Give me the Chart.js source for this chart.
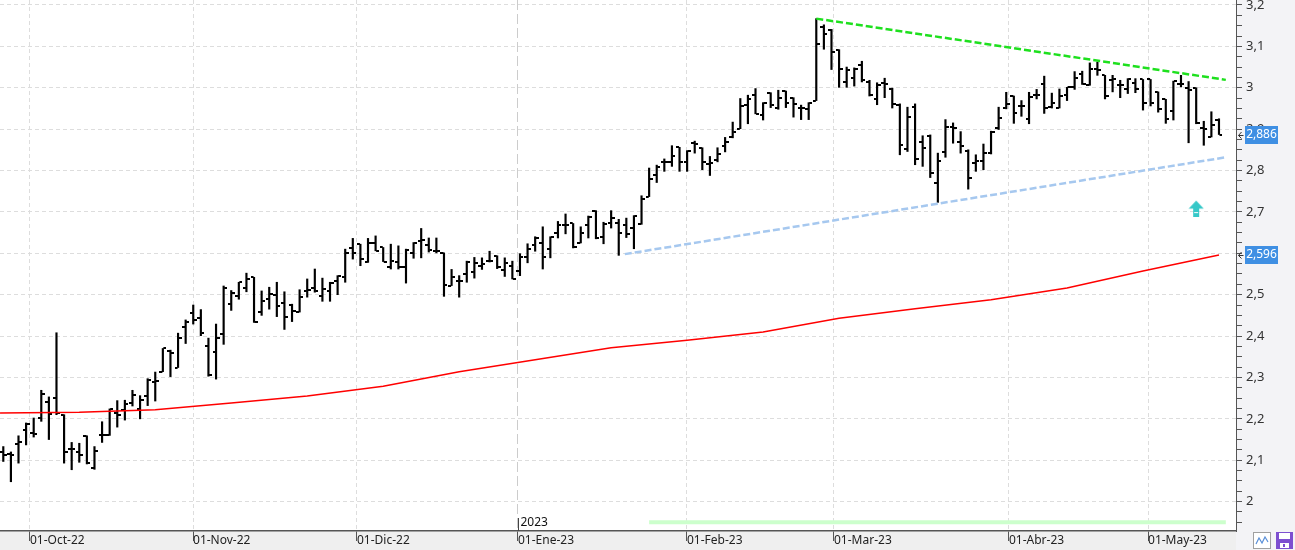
<!DOCTYPE html>
<html>
<head>
<meta charset="utf-8">
<script src="https://cdn.jsdelivr.net/npm/chart.js@4.4.1/dist/chart.umd.min.js"></script>
<style>
  html, body { margin: 0; padding: 0; background: #fff; overflow: hidden; }
  #grafica { display: block; }
</style>
</head>
<body>
<canvas id="grafica" width="1295" height="550"></canvas>
<script>
// ========== DATOS ===================
// eje X: posicion (en barras) de cada inicio de mes y su etiqueta
const monthTicks  = [3.51, 24.97, 46.55, 67.74, 89.98, 109.33, 132.36, 150.66];
const monthLabels = ["01-Oct-22", "01-Nov-22", "01-Dic-22", "01-Ene-23",
                     "01-Feb-23", "01-Mar-23", "01-Abr-23", "01-May-23"];
const yearTick  = 3;
const yearLabel = "2023";

// eje Y
const yMajor = [2.0, 2.1, 2.2, 2.3, 2.4, 2.5, 2.6, 2.7, 2.8, 2.9, 3.0, 3.1, 3.2];

// barras OHLC diarias
const opens = [
  2.120, 2.115, 2.140, 2.174, 2.166, 2.202, 2.241, 2.251, 2.210, 2.126,
  2.120, 2.159, 2.081, 2.160, 2.160, 2.213, 2.221, 2.239, 2.224, 2.256,
  2.289, 2.314, 2.363, 2.324, 2.421, 2.455, 2.443, 2.376, 2.361, 2.404,
  2.477, 2.498, 2.515, 2.542, 2.458, 2.489, 2.499, 2.479, 2.475, 2.458,
  2.510, 2.516, 2.498, 2.510, 2.534, 2.542, 2.612, 2.622, 2.580, 2.626,
  2.614, 2.566, 2.580, 2.568, 2.600, 2.629, 2.621, 2.606, 2.601, 2.522,
  2.532, 2.550, 2.554, 2.569, 2.581, 2.593, 2.559, 2.570, 2.558, 2.590,
  2.619, 2.625, 2.610, 2.649, 2.668, 2.672, 2.625, 2.669, 2.702, 2.639,
  2.673, 2.673, 2.669, 2.662, 2.670, 2.737, 2.790, 2.821, 2.821, 2.856,
  2.821, 2.867, 2.855, 2.816, 2.826, 2.860, 2.881, 2.901, 2.958, 2.982,
  2.935, 2.988, 2.950, 2.992, 2.976, 2.952, 2.949, 2.969, 3.147, 3.139,
  3.090, 3.015, 3.024, 3.054, 3.014, 2.973, 3.012, 2.997, 2.959, 2.852,
  2.953, 2.868, 2.884, 2.771, 2.844, 2.905, 2.868, 2.848, 2.818, 2.824,
  2.842, 2.902, 2.951, 2.980, 2.955, 2.925, 2.983, 3.010, 2.953, 2.951,
  2.983, 3.001, 3.032, 3.006, 3.046, 3.030, 3.018, 3.006, 2.996, 3.012,
  3.020, 3.020, 2.990, 2.972, 2.944, 3.010, 3.000, 3.000, 2.903, 2.881,
  2.923
];
const highs = [
  2.133, 2.120, 2.159, 2.190, 2.202, 2.269, 2.253, 2.408, 2.210, 2.143,
  2.141, 2.159, 2.133, 2.193, 2.224, 2.244, 2.245, 2.269, 2.256, 2.297,
  2.313, 2.370, 2.366, 2.407, 2.439, 2.475, 2.464, 2.395, 2.429, 2.521,
  2.510, 2.530, 2.552, 2.542, 2.509, 2.518, 2.530, 2.507, 2.477, 2.512,
  2.538, 2.562, 2.540, 2.530, 2.546, 2.610, 2.636, 2.622, 2.636, 2.642,
  2.614, 2.622, 2.618, 2.610, 2.626, 2.660, 2.637, 2.637, 2.601, 2.561,
  2.546, 2.581, 2.590, 2.589, 2.605, 2.594, 2.589, 2.581, 2.599, 2.623,
  2.640, 2.664, 2.640, 2.677, 2.695, 2.672, 2.664, 2.690, 2.703, 2.675,
  2.703, 2.682, 2.685, 2.691, 2.739, 2.806, 2.813, 2.828, 2.860, 2.856,
  2.848, 2.871, 2.855, 2.834, 2.855, 2.880, 2.917, 2.974, 2.982, 2.998,
  2.964, 2.988, 2.994, 2.992, 2.976, 2.958, 2.964, 3.167, 3.152, 3.141,
  3.092, 3.050, 3.048, 3.064, 3.018, 3.012, 3.023, 2.999, 2.961, 2.953,
  2.961, 2.884, 2.886, 2.842, 2.923, 2.915, 2.894, 2.850, 2.838, 2.864,
  2.895, 2.953, 2.989, 2.980, 2.969, 2.989, 2.996, 3.028, 2.987, 2.997,
  3.001, 3.039, 3.040, 3.060, 3.062, 3.030, 3.030, 3.018, 3.022, 3.022,
  3.020, 3.020, 2.990, 2.972, 3.016, 3.030, 3.015, 3.000, 2.919, 2.942,
  2.925
];
const lows = [
  2.097, 2.048, 2.093, 2.137, 2.156, 2.194, 2.150, 2.210, 2.093, 2.077,
  2.095, 2.091, 2.078, 2.143, 2.160, 2.180, 2.197, 2.231, 2.200, 2.232,
  2.243, 2.314, 2.302, 2.324, 2.382, 2.429, 2.401, 2.303, 2.296, 2.380,
  2.462, 2.489, 2.507, 2.433, 2.450, 2.465, 2.447, 2.416, 2.435, 2.458,
  2.494, 2.506, 2.484, 2.484, 2.500, 2.530, 2.586, 2.570, 2.578, 2.606,
  2.580, 2.562, 2.562, 2.528, 2.588, 2.589, 2.603, 2.601, 2.496, 2.522,
  2.494, 2.530, 2.540, 2.561, 2.579, 2.563, 2.544, 2.538, 2.546, 2.577,
  2.605, 2.562, 2.589, 2.637, 2.647, 2.613, 2.625, 2.637, 2.635, 2.623,
  2.661, 2.595, 2.638, 2.611, 2.670, 2.737, 2.771, 2.798, 2.810, 2.798,
  2.798, 2.842, 2.802, 2.788, 2.821, 2.845, 2.879, 2.901, 2.913, 2.937,
  2.922, 2.952, 2.948, 2.952, 2.929, 2.923, 2.923, 2.969, 3.093, 3.044,
  3.001, 3.001, 3.004, 3.014, 2.980, 2.959, 2.976, 2.951, 2.838, 2.846,
  2.814, 2.810, 2.783, 2.723, 2.832, 2.866, 2.842, 2.755, 2.798, 2.802,
  2.840, 2.899, 2.949, 2.914, 2.931, 2.913, 2.973, 2.938, 2.951, 2.951,
  2.969, 2.996, 3.008, 3.006, 3.030, 2.973, 2.990, 2.976, 2.986, 2.988,
  2.946, 2.956, 2.941, 2.914, 2.922, 3.002, 2.867, 2.913, 2.861, 2.881,
  2.887
];
const closes = [
  2.113, 2.113, 2.144, 2.188, 2.163, 2.259, 2.212, 2.214, 2.120, 2.126,
  2.112, 2.093, 2.123, 2.162, 2.223, 2.209, 2.237, 2.257, 2.245, 2.294,
  2.291, 2.370, 2.358, 2.395, 2.435, 2.439, 2.407, 2.306, 2.395, 2.517,
  2.503, 2.530, 2.537, 2.433, 2.485, 2.501, 2.473, 2.445, 2.461, 2.494,
  2.512, 2.510, 2.514, 2.528, 2.544, 2.600, 2.600, 2.586, 2.624, 2.606,
  2.580, 2.582, 2.568, 2.608, 2.626, 2.633, 2.609, 2.605, 2.523, 2.542,
  2.534, 2.579, 2.577, 2.573, 2.582, 2.567, 2.577, 2.538, 2.590, 2.610,
  2.637, 2.590, 2.639, 2.669, 2.668, 2.615, 2.649, 2.687, 2.637, 2.671,
  2.686, 2.648, 2.646, 2.689, 2.732, 2.780, 2.809, 2.821, 2.834, 2.821,
  2.848, 2.865, 2.821, 2.818, 2.841, 2.868, 2.893, 2.957, 2.974, 2.937,
  2.964, 2.958, 2.976, 2.964, 2.960, 2.950, 2.962, 3.106, 3.131, 3.086,
  3.046, 3.042, 3.046, 3.018, 2.983, 3.007, 3.010, 2.960, 2.862, 2.929,
  2.829, 2.854, 2.794, 2.824, 2.905, 2.902, 2.860, 2.783, 2.824, 2.842,
  2.894, 2.927, 2.961, 2.938, 2.955, 2.977, 2.983, 2.951, 2.963, 2.981,
  3.001, 3.024, 3.010, 3.046, 3.043, 2.980, 3.022, 3.006, 3.020, 2.998,
  2.962, 2.964, 2.949, 2.925, 3.016, 3.008, 2.994, 2.914, 2.901, 2.910,
  2.886
];

// media movil (roja), leida cada 10 barras
const maIdx  = [-0.43, 10, 20, 30, 40, 50, 60, 70, 80, 90, 100, 110, 120, 130, 140, 150, 160];
const maVals = [2.214, 2.216, 2.222, 2.238, 2.255, 2.279, 2.314, 2.343, 2.372, 2.390,
                2.410, 2.443, 2.466, 2.488, 2.516, 2.557, 2.596];

// lineas de tendencia
const resistIdx  = [107, 160.9];
const resistVals = [3.167, 3.019];
const supportIdx  = [81.8, 160.9];
const supportVals = [2.598, 2.832];

// franja verde inferior y flecha
const signalIdx  = [85, 160.9];
const signalVals = [1.950, 1.950];
const arrowIdx  = [157];
const arrowVals = [2.708];

// -------------- UTILS ----------------
const FONT = '"Noto Sans", "Open Sans", sans-serif';
function coma(v, dec) { return (dec == null ? String(+v.toFixed(1)) : v.toFixed(dec)).replace(".", ","); }
function esMayor(v) { return yMajor.some(m => Math.abs(m - v) < 1e-6); }
function puntos(idx, vals) { return idx.map((x, i) => ({ x: x, y: vals[i] })); }

function tickImg(lado) {
  const c = document.createElement("canvas");
  c.width = 7; c.height = 2;
  const g = c.getContext("2d");
  g.fillStyle = "#000";
  if (lado === "izq") g.fillRect(0, 0, 3, 2); else g.fillRect(4, 0, 3, 2);
  return c;
}

function flechaImg() {
  const c = document.createElement("canvas");
  c.width = 16; c.height = 17;
  const g = c.getContext("2d");
  g.fillStyle = "#36c8c8";
  g.beginPath(); g.moveTo(0.5, 8.5); g.lineTo(8, 0.5); g.lineTo(15.5, 8.5); g.closePath(); g.fill();
  g.fillRect(5, 8, 6, 9);
  g.fillStyle = "#ffffff";
  g.fillRect(6, 12, 4, 1);
  return c;
}

// ========== PLUGIN DE DECORACION ==========
const decoracion = {
  id: "decoracion",
  beforeDraw(chart) {
    const { ctx, chartArea: a, width, height } = chart;
    ctx.save();
    ctx.fillStyle = "#f3f3f6";
    ctx.fillRect(a.right, 0, width - a.right, height);
    ctx.fillStyle = "#efefef";
    ctx.fillRect(0, a.bottom, a.right, height - a.bottom);
    ctx.restore();
  },
  afterDraw(chart) {
    const { ctx, chartArea: a, scales } = chart;
    const x = scales.x, y = scales.y;
    ctx.save();

    // marca del año
    const xj = Math.round(x.getPixelForValue(monthTicks[yearTick])) + 0.5;
    ctx.strokeStyle = "#444"; ctx.lineWidth = 1;
    ctx.beginPath(); ctx.moveTo(xj, a.bottom - 13); ctx.lineTo(xj, a.bottom); ctx.stroke();
    ctx.fillStyle = "#111"; ctx.font = "12px " + FONT;
    ctx.textBaseline = "middle"; ctx.textAlign = "left";
    ctx.fillText(yearLabel, xj + 2, a.bottom - 8);

    // etiquetas de valor en el eje
    function etiqueta(v) {
      const yc = Math.round(y.getPixelForValue(v));
      ctx.fillStyle = "#3f8fe3";
      ctx.fillRect(a.right + 9, yc - 9, 33, 18);
      ctx.fillStyle = "#ffffff"; ctx.font = "12px " + FONT;
      ctx.textAlign = "center"; ctx.textBaseline = "middle";
      ctx.fillText(coma(v, 3), a.right + 25.5, yc);
      ctx.strokeStyle = "#333"; ctx.lineWidth = 1;
      ctx.beginPath();
      ctx.moveTo(a.right + 5.5, yc - 3); ctx.lineTo(a.right + 2.5, yc + 0.5); ctx.lineTo(a.right + 5.5, yc + 3.5);
      ctx.moveTo(a.right + 2.5, yc + 0.5); ctx.lineTo(a.right + 7.5, yc + 0.5);
      ctx.stroke();
    }
    etiqueta(closes[closes.length - 1]);
    etiqueta(maVals[maVals.length - 1]);

    // iconos abajo a la derecha
    ctx.fillStyle = "#ffffff"; ctx.strokeStyle = "#a0a0a0";
    ctx.fillRect(1253.5, 532.5, 17, 16); ctx.strokeRect(1253.5, 532.5, 17, 16);
    ctx.strokeStyle = "#5a8fd8"; ctx.lineWidth = 1.2;
    ctx.beginPath();
    ctx.moveTo(1256, 544); ctx.lineTo(1259, 538); ctx.lineTo(1262, 543); ctx.lineTo(1265, 537); ctx.lineTo(1268, 542);
    ctx.stroke();
    ctx.fillStyle = "#7d4fd0";
    ctx.fillRect(1276, 532, 17, 17);
    ctx.fillStyle = "#ffffff";
    ctx.fillRect(1279, 533, 11, 6);
    ctx.fillRect(1280, 543, 9, 5);
    ctx.fillStyle = "#7d4fd0";
    ctx.fillRect(1283, 544, 2, 3);
    ctx.restore();
  }
};

// ========== GRAFICA ==========
const ctx = document.getElementById("grafica");
new Chart(ctx, {
  type: "bar",
  data: {
    datasets: [
      {
        type: "line", order: 0, data: puntos(maIdx, maVals),
        borderColor: "#ff0000", borderWidth: 1.5, pointRadius: 0, tension: 0, fill: false
      },
      {
        type: "line", order: 0, data: puntos(resistIdx, resistVals),
        borderColor: "#1ee01e", borderWidth: 2.5, borderDash: [7, 3], pointRadius: 0, fill: false
      },
      {
        type: "line", order: 0, data: puntos(supportIdx, supportVals),
        borderColor: "#a6c8ef", borderWidth: 2.5, borderDash: [7, 3], pointRadius: 0, fill: false
      },
      {
        type: "line", order: 0, data: puntos(signalIdx, signalVals),
        borderColor: "#ccffcc", borderWidth: 4, pointRadius: 0, fill: false
      },
      {
        type: "scatter", order: 0, data: puntos(arrowIdx, arrowVals),
        pointStyle: flechaImg(), pointRadius: 8
      },
      {
        type: "scatter", order: 1, data: opens.map((v, i) => ({ x: i, y: v })),
        pointStyle: tickImg("izq"), pointRadius: 3
      },
      {
        type: "scatter", order: 1, data: closes.map((v, i) => ({ x: i, y: v })),
        pointStyle: tickImg("der"), pointRadius: 3
      },
      {
        type: "bar", order: 2, data: highs.map((h, i) => ({ x: i, y: [lows[i], h] })),
        backgroundColor: "#000000", borderWidth: 0, barThickness: 1.5, grouped: false
      }
    ]
  },
  options: {
    responsive: false,
    animation: false,
    events: [],
    layout: { padding: 0, autoPadding: false },
    plugins: { legend: { display: false }, tooltip: { enabled: false } },
    scales: {
      x: {
        type: "linear", min: -0.434, max: 162.24, offset: false,
        afterBuildTicks: s => { s.ticks = monthTicks.map(v => ({ value: v })); },
        afterFit: s => { s.height = 19; s.paddingLeft = 0; s.paddingRight = 0; },
        ticks: {
          autoSkip: false, maxRotation: 0, minRotation: 0, align: "start", padding: -8,
          color: "#222", font: { family: FONT, size: 12 },
          callback: (v, i) => monthLabels[i]
        },
        grid: {
          offset: false, tickLength: 10, tickColor: "#555",
          color: c => c.index === yearTick ? "#cccccc" : "#dddddd"
        },
        border: {
          color: "#555", width: 1.5,
          dash: c => c.index === yearTick ? [10, 4] : [4, 3]
        }
      },
      y: {
        position: "right", min: 1.929, max: 3.212,
        afterBuildTicks: s => {
          const t = [];
          for (let k = 0; k <= 50; k++) t.push({ value: +(1.95 + k * 0.025).toFixed(3) });
          s.ticks = t;
        },
        afterFit: s => { s.width = 59; s.paddingTop = 0; s.paddingBottom = 0; },
        ticks: {
          autoSkip: false, padding: 4, color: "#333", font: { family: FONT, size: 13 },
          callback: v => esMayor(v) ? coma(v) : ""
        },
        grid: {
          tickLength: 6, tickColor: "#555",
          color: c => (c.tick && esMayor(c.tick.value)) ? "#dddddd" : "rgba(0,0,0,0)"
        },
        border: { color: "#555", width: 1, dash: [4, 3] }
      }
    }
  },
  plugins: [decoracion]
});
</script>
</body>
</html>
